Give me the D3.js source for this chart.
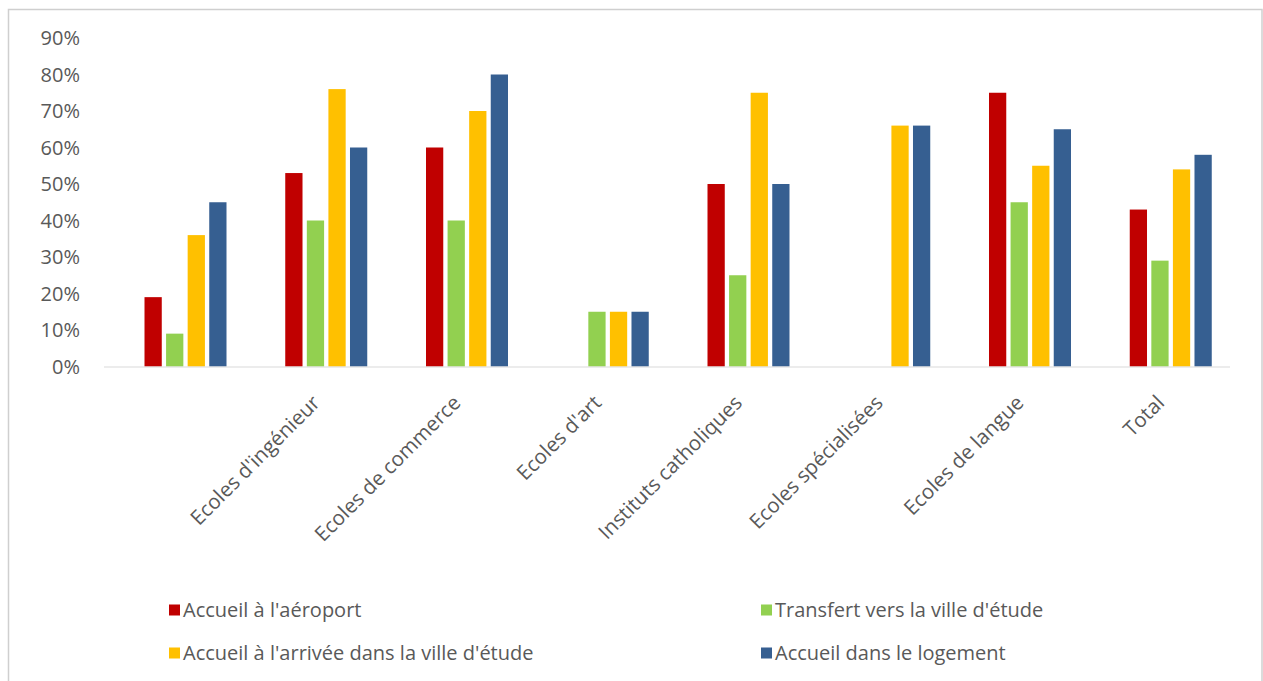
<!DOCTYPE html>
<html>
<head>
<meta charset="utf-8">
<script src="https://cdn.jsdelivr.net/npm/d3@7"></script>
<style>
  html, body { margin: 0; padding: 0; background: #fff; }
  svg { display: block; }
</style>
</head>
<body>
<svg id="chart" width="1263" height="681"></svg>
<script>
// ---- data ----
const categories = ["", "Ecoles d'ingénieur", "Ecoles de commerce", "Ecoles d'art",
  "Instituts catholiques", "Ecoles spécialisées", "Ecoles de langue", "Total"];
const seriesNames = ["Accueil à l'aéroport", "Transfert vers la ville d'étude",
  "Accueil à l'arrivée dans la ville d'étude", "Accueil dans le logement"];
const accueilAeroport = [0.19, 0.53, 0.60, 0, 0.50, 0, 0.75, 0.43];
const transfertVille  = [0.09, 0.40, 0.40, 0.15, 0.25, 0, 0.45, 0.29];
const accueilArrivee  = [0.36, 0.76, 0.70, 0.15, 0.75, 0.66, 0.55, 0.54];
const accueilLogement = [0.45, 0.60, 0.80, 0.15, 0.50, 0.66, 0.65, 0.58];
const yTicks = [0, 0.1, 0.2, 0.3, 0.4, 0.5, 0.6, 0.7, 0.8, 0.9];
const colors = ["#C00000", "#92D050", "#FFC000", "#365F91"];

const seriesValues = [accueilAeroport, transfertVille, accueilArrivee, accueilLogement];

const svg = d3.select("#chart");
const font = "'Open Sans', 'Liberation Sans', sans-serif";
const textColor = "#595959";

// chart border
svg.append("rect")
  .attr("x", 8.5).attr("y", 9.5)
  .attr("width", 1253.5).attr("height", 700)
  .attr("fill", "#fff")
  .attr("stroke", "#cfcfcf").attr("stroke-width", 1.5);

// scales
const x = d3.scaleBand().domain(categories).range([104, 1230]);
const xInner = d3.scaleBand().domain(seriesNames).range([40.5, 122.5]).paddingInner(0.2);
const y = d3.scaleLinear().domain([0, 0.9]).range([366.5, 38]);

// y axis labels
svg.append("g").selectAll("text")
  .data(yTicks).join("text")
  .attr("x", 80)
  .attr("y", d => y(d))
  .attr("dy", "0.36em")
  .attr("text-anchor", "end")
  .attr("font-family", font)
  .attr("font-size", 20)
  .attr("fill", textColor)
  .text(d => d3.format(".0%")(d));

// bars
const groups = svg.append("g").selectAll("g")
  .data(categories).join("g")
  .attr("transform", c => `translate(${x(c)},0)`);

groups.selectAll("rect")
  .data((c, i) => seriesNames.map((s, k) => ({ s, k, v: seriesValues[k][i] })))
  .join("rect")
  .attr("x", d => xInner(d.s))
  .attr("width", xInner.bandwidth())
  .attr("y", d => y(d.v))
  .attr("height", d => y(0) - y(d.v))
  .attr("fill", d => colors[d.k]);

// x axis line
svg.append("line")
  .attr("x1", x.range()[0]).attr("x2", x.range()[1])
  .attr("y1", y(0) + 0.5).attr("y2", y(0) + 0.5)
  .attr("stroke", "#d9d9d9").attr("stroke-width", 1.2);

// x labels, rotated
svg.append("g").selectAll("text")
  .data(categories).join("text")
  .attr("transform", c => `translate(${x(c) + x.bandwidth() / 2 + 1},399) rotate(-45)`)
  .attr("text-anchor", "end")
  .attr("dy", "0.35em")
  .attr("font-family", font)
  .attr("font-size", 20.5)
  .attr("fill", textColor)
  .text(c => c);

// legend
const legendPos = [
  { x: 169, y: 610 }, { x: 761, y: 610 },
  { x: 169, y: 653 }, { x: 761, y: 653 }
];
const legend = svg.append("g").selectAll("g")
  .data(seriesNames).join("g")
  .attr("transform", (s, i) => `translate(${legendPos[i].x},${legendPos[i].y})`);
legend.append("rect")
  .attr("x", 0).attr("y", -5.5).attr("width", 11).attr("height", 11)
  .attr("fill", (s, i) => colors[i]);
legend.append("text")
  .attr("x", 14).attr("y", 0).attr("dy", "0.35em")
  .attr("font-family", font)
  .attr("font-size", 20)
  .attr("fill", textColor)
  .text(s => s);
</script>
</body>
</html>
